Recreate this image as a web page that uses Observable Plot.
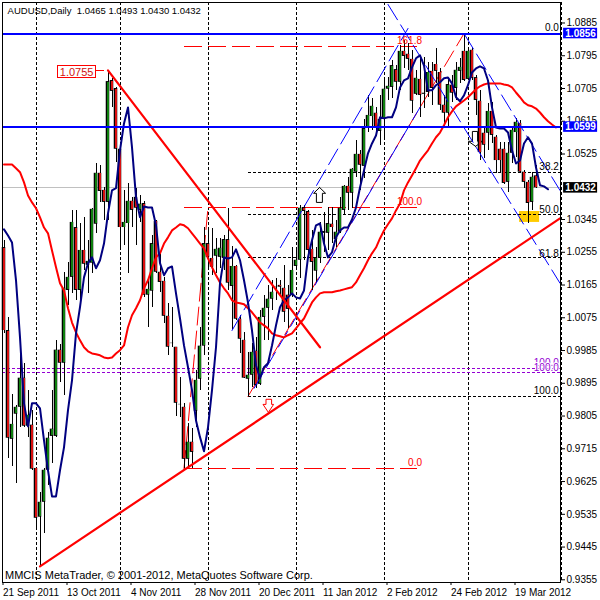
<!DOCTYPE html>
<html><head><meta charset="utf-8">
<script src="https://cdn.jsdelivr.net/npm/d3@7"></script>
<script src="https://cdn.jsdelivr.net/npm/@observablehq/plot@0.6"></script>
<style>html,body{margin:0;padding:0;background:#fff}svg{display:block}</style>
</head><body><div id="c"></div>
<script>
const open=[1.0268,1.0040,.9741,.9810,.9829,.9909,.9777,.9780,.9661,.9527,
.9568,.9656,.9749,.9749,.9986,.9950,1.0150,1.0186,1.0323,1.0150,
1.0260,1.0219,1.0225,1.0332,1.0472,1.0425,1.0392,1.0727,1.0705,1.0538,
1.0323,1.0334,1.0395,1.0406,1.0370,1.0389,1.0137,1.0148,1.0340,1.0200,
1.0175,1.0079,1.0005,.9994,.9837,.9829,.9686,.9733,.9818,.9906,
.9997,1.0279,1.0238,1.0244,1.0241,1.0238,1.0290,1.0161,1.0216,1.0071,
1.0013,.9906,.9917,.9983,.9892,1.0076,1.0101,1.0126,1.0161,1.0164,
1.0156,1.0137,1.0137,1.0216,1.0233,1.0378,1.0367,1.0263,1.0203,1.0238,
1.0312,1.0307,1.0332,1.0290,1.0310,1.0370,1.0436,1.0417,1.0475,1.0524,
1.0491,1.0598,1.0628,1.0637,1.0587,1.0620,1.0703,1.0708,1.0757,1.0722,
1.0807,1.0799,1.0785,1.0689,1.0730,1.0689,1.0694,1.0752,1.0771,1.0749,
1.0659,1.0637,1.0714,1.0705,1.0752,1.0807,1.0730,1.0810,1.0735,1.0670,
1.0582,1.0582,1.0642,1.0571,1.0538,1.0538,1.0447,1.0527,1.0584,1.0609,
1.0475,1.0447,1.0392,1.0465];
const close=[1.0040,.9744,.9782,.9829,.9909,.9777,.9807,.9659,.9524,.9568,
.9656,.9744,.9769,.9986,.9950,1.0156,1.0186,1.0337,1.0150,1.0260,
1.0222,1.0230,1.0373,1.0472,1.0422,1.0392,1.0724,1.0697,1.0538,1.0323,
1.0337,1.0395,1.0370,1.0376,1.0387,1.0137,1.0153,1.0279,1.0200,1.0172,
1.0079,.9994,1.0004,.9840,.9836,.9686,.9733,.9705,.9903,.9997,
1.0279,1.0241,1.0214,1.0263,1.0266,1.0290,1.0170,1.0216,1.0071,1.0016,
.9909,.9917,.9980,.9889,1.0076,1.0101,1.0126,1.0145,1.0160,1.0159,
1.0090,1.0098,1.0205,1.0233,1.0376,1.0367,1.0260,1.0227,1.0238,1.0310,
1.0307,1.0334,1.0323,1.0310,1.0376,1.0436,1.0417,1.0483,1.0524,1.0494,
1.0595,1.0631,1.0656,1.0598,1.0620,1.0703,1.0711,1.0768,1.0722,1.0807,
1.0793,1.0785,1.0670,1.0733,1.0686,1.0692,1.0749,1.0705,1.0752,1.0659,
1.0637,1.0716,1.0692,1.0755,1.0763,1.0727,1.0807,1.0733,1.0672,1.0529,
1.0549,1.0642,1.0576,1.0507,1.0507,1.0444,1.0527,1.0590,1.0612,1.0475,
1.0447,1.0389,1.0461,1.0432];
const high=[1.0288,1.0076,.9865,.9834,.9977,.9950,.9876,.9821,.9664,.9595,
.9661,.9760,.9876,1.0013,1.0002,1.0200,1.0227,1.0370,1.0370,1.0334,
1.0351,1.0288,1.0376,1.0499,1.0494,1.0433,1.0755,1.0733,1.0708,1.0549,
1.0425,1.0444,1.0406,1.0431,1.0411,1.0395,1.0178,1.0301,1.0343,1.0252,
1.0186,1.0115,1.0104,.9994,.9911,.9840,.9785,.9771,.9931,1.0049,
1.0323,1.0315,1.0321,1.0293,1.0293,1.0301,1.0376,1.0271,1.0219,1.0082,
1.0035,.9980,1.0005,1.0021,1.0095,1.0137,1.0164,1.0178,1.0183,1.0178,
1.0219,1.0164,1.0268,1.0268,1.0384,1.0384,1.0370,1.0315,1.0268,1.0337,
1.0365,1.0378,1.0378,1.0343,1.0406,1.0439,1.0461,1.0486,1.0562,1.0535,
1.0620,1.0686,1.0678,1.0653,1.0686,1.0727,1.0735,1.0782,1.0768,1.0823,
1.0837,1.0829,1.0810,1.0755,1.0790,1.0790,1.0777,1.0777,1.0815,1.0760,
1.0686,1.0735,1.0741,1.0777,1.0788,1.0856,1.0818,1.0818,1.0741,1.0700,
1.0595,1.0664,1.0667,1.0576,1.0557,1.0557,1.0557,1.0595,1.0623,1.0617,
1.0480,1.0453,1.0475,1.0493];
const low=[1.0032,.9689,.9667,.9620,.9774,.9774,.9747,.9656,.9497,.9392,
.9483,.9615,.9675,.9747,.9898,.9862,1.0109,1.0142,1.0123,1.0123,
1.0205,1.0142,1.0197,1.0307,1.0392,1.0343,1.0343,1.0653,1.0502,1.0268,
1.0274,1.0197,1.0323,1.0274,1.0337,1.0131,1.0049,1.0104,1.0197,1.0145,
1.0060,.9972,.9994,.9804,.9802,.9661,.9661,.9661,.9774,.9876,
.9972,1.0205,1.0192,1.0197,1.0211,1.0205,1.0150,1.0043,1.0068,.9977,
.9908,.9859,.9884,.9881,.9889,1.0013,1.0013,1.0095,1.0123,1.0134,
1.0062,1.0046,1.0131,1.0205,1.0183,1.0233,1.0238,1.0150,1.0170,1.0225,
1.0255,1.0260,1.0279,1.0268,1.0307,1.0356,1.0370,1.0376,1.0461,1.0425,
1.0458,1.0584,1.0590,1.0582,1.0549,1.0568,1.0672,1.0678,1.0700,1.0700,
1.0760,1.0755,1.0637,1.0686,1.0626,1.0650,1.0681,1.0659,1.0719,1.0645,
1.0598,1.0598,1.0667,1.0672,1.0719,1.0724,1.0727,1.0727,1.0631,1.0507,
1.0513,1.0535,1.0554,1.0472,1.0475,1.0442,1.0420,1.0499,1.0516,1.0472,
1.0431,1.0334,1.0370,1.0430];
const navyMA=[1.0318,1.0301,1.0282,1.0178,1.0021,.9840,.9777,.9840,.9840,.9826,
.9738,.9656,.9584,.9584,.9656,.9719,.9821,.9903,1.0032,1.0104,
1.0186,1.0225,1.0241,1.0211,1.0233,1.0279,1.0362,1.0425,1.0431,1.0535,
1.0609,1.0653,1.0543,1.0406,1.0351,1.0381,1.0378,1.0378,1.0329,1.0225,
1.0192,1.0211,1.0216,1.0142,1.0073,.9999,.9939,.9876,.9793,.9747,
.9708,.9774,.9876,.9994,1.0170,1.0241,1.0238,1.0241,1.0263,1.0233,
1.0178,1.0117,1.0040,.9944,.9909,.9939,.9950,.9999,1.0054,1.0104,
1.0123,1.0131,1.0142,1.0131,1.0128,1.0150,1.0241,1.0288,1.0329,1.0334,
1.0279,1.0241,1.0255,1.0296,1.0315,1.0323,1.0323,1.0345,1.0378,1.0433,
1.0480,1.0527,1.0554,1.0576,1.0626,1.0623,1.0626,1.0626,1.0653,1.0708,
1.0727,1.0733,1.0763,1.0788,1.0796,1.0768,1.0700,1.0700,1.0714,1.0722,
1.0733,1.0735,1.0719,1.0681,1.0670,1.0686,1.0714,1.0749,1.0760,1.0766,
1.0760,1.0727,1.0653,1.0598,1.0595,1.0595,1.0584,1.0535,1.0499,1.0507,
1.0554,1.0571,1.0554,1.0488,1.0439,1.0436,1.0428];
const redMA=[1.0496,1.0496,1.0496,1.0486,1.0475,1.0447,1.0411,1.0392,1.0376,1.0351,
1.0323,1.0307,1.0260,1.0214,1.0170,1.0150,1.0101,1.0062,1.0035,1.0013,
.9994,.9983,.9977,.9975,.9972,.9966,.9964,.9966,.9977,.9986,
.9999,1.0049,1.0082,1.0101,1.0123,1.0156,1.0178,1.0211,1.0241,1.0252,
1.0279,1.0296,1.0315,1.0323,1.0332,1.0329,1.0321,1.0307,1.0293,1.0279,
1.0266,1.0238,1.0214,1.0192,1.0172,1.0156,1.0142,1.0123,1.0117,1.0115,
1.0112,1.0101,1.0090,1.0076,1.0062,1.0054,1.0046,1.0032,1.0027,1.0024,
1.0021,1.0027,1.0032,1.0046,1.0060,1.0073,1.0095,1.0117,1.0131,1.0142,
1.0145,1.0145,1.0145,1.0148,1.0150,1.0153,1.0156,1.0159,1.0172,1.0192,
1.0211,1.0233,1.0252,1.0268,1.0293,1.0315,1.0332,1.0348,1.0370,1.0389,
1.0425,1.0447,1.0466,1.0486,1.0507,1.0521,1.0535,1.0554,1.0571,1.0584,
1.0604,1.0626,1.0642,1.0656,1.0664,1.0672,1.0681,1.0692,1.0703,1.0711,
1.0716,1.0719,1.0719,1.0719,1.0719,1.0716,1.0714,1.0708,1.0694,1.0681,
1.0667,1.0659,1.0656,1.0650,1.0639,1.0626,1.0615,1.0606,1.0598];

const monthBars=[8,29,51,73,95,116];
const fibBlack=[1.0475,1.03575,1.0240,.9859];
const bluePrices=[1.0856,1.0599];
const lastPrice=1.0432;
const violetPrices=[.9936,.9925];
const redFib=[1.0820,1.0378,.9661];
const yTicks=[1.0885,1.0795,1.0705,1.0615,1.0525,1.0345,1.0255,1.0165,1.0075,.9985,.9895,.9805,.9715,.9625,.9535,.9445,.9355];
const xTickBars=[0,16,32,48,64,80,96,112,128];
const xTickLabels=["21 Sep 2011","13 Oct 2011","4 Nov 2011","28 Nov 2011","20 Dec 2011","11 Jan 2012","2 Feb 2012","24 Feb 2012","19 Mar 2012"];
const xMin=-0.375,xMax=139.125;
const thickTrends=[[[26,1.0755],[79,.9994]],[[9,.9392],[139,1.0348]]];
const channels=[[[96,1.0936],[139,1.0170]],[[115,1.0856],[139,1.0425]],[[62.5,.9881],[104,1.0653]],[[57,1.0040],[101,1.0870]]];
const redDiagonals=[[[61,.9859],[115,1.0856]],[[45,.9661],[51,1.0378]]];
const upArrow=[[78.9,1.0433],[80.4,1.0417],[79.6,1.0417],[79.6,1.0392],[78.1,1.0392],[78.1,1.0417],[77.4,1.0417],[78.9,1.0433]];
const downArrowRed=[[66.1,.9815],[67.4,.9837],[66.9,.9837],[66.9,.9851],[65.5,.9851],[65.5,.9837],[64.75,.9837],[66.1,.9815]];
const downArrowBlack=[[117.9,1.0546],[119.6,1.0560],[118.4,1.0560],[118.4,1.0587],[117.1,1.0587],[117.1,1.0560],[116.1,1.0560],[117.9,1.0546]];

const bars=open.map((o,i)=>({i,o,c:close[i],h:high[i],l:low[i]}));
const F="Liberation Sans, Arial, sans-serif";
const seg=s=>s.map(([x,y])=>({x,y}));
const lineOf=(pts,o)=>Plot.line(seg(pts),{x:"x",y:"y",...o});
const num=a=>a.map((v,i)=>({i,v}));
const txt=(t,x,y,o={})=>Plot.text([t],{x:()=>x,y:()=>y,text:d=>d,fontSize:10,fontFamily:F,lineAnchor:"middle",...o});

const chart=Plot.plot({
 width:600,height:600,marginLeft:2,marginRight:40,marginTop:2,marginBottom:18,
 style:{background:"#fff",fontFamily:F,overflow:"visible"},
 x:{type:"linear",domain:[xMin,xMax]},
 y:{type:"linear",domain:[.93476,1.09413]},
 marks:[
  Plot.rect([0],{x1:()=>128.9,x2:()=>133.9,y1:()=>1.0367,y2:()=>1.0337,fill:"#ffcc00"}),
  Plot.ruleY([lastPrice],{stroke:"#c0c0c0",strokeWidth:1,shapeRendering:"crispEdges"}),
  Plot.ruleX(monthBars,{stroke:"#000",strokeWidth:1,strokeDasharray:"3,2",shapeRendering:"crispEdges"}),
  Plot.ruleY(fibBlack,{x1:61,x2:xMax,stroke:"#000",strokeWidth:1,strokeDasharray:"3,2",shapeRendering:"crispEdges"}),
  Plot.ruleY([1.0378],{x1:81,x2:84.5,stroke:"#000",strokeWidth:1,shapeRendering:"crispEdges"}),
  Plot.ruleY(violetPrices,{stroke:"#9400d3",strokeWidth:1,strokeDasharray:"3,2",shapeRendering:"crispEdges"}),
  Plot.ruleY(redFib,{x1:45,x2:103.4,stroke:"#ff0000",strokeWidth:1,strokeDasharray:"18,6",shapeRendering:"crispEdges"}),
  ...redDiagonals.map(p=>lineOf(p,{stroke:"#ff0000",strokeWidth:1,strokeDasharray:"18,6"})),
  lineOf(downArrowBlack,{stroke:"#000",strokeWidth:1,fill:"#fff"}),
  Plot.ruleX(bars,{x:"i",y1:"l",y2:"h",stroke:"#000",strokeWidth:1,shapeRendering:"crispEdges"}),
  Plot.rect(bars,{x1:d=>d.i-0.44,x2:d=>d.i+0.44,y1:"o",y2:"c",fill:"#000"}),
  Plot.rect(bars,{x1:d=>d.i-0.25,x2:d=>d.i+0.25,y1:d=>Math.max(d.o,d.c)-.00014,y2:d=>Math.min(d.o,d.c)+.00014,fill:d=>d.c>=d.o?"#0f7f0f":"#d81010",shapeRendering:"crispEdges"}),
  ...channels.map(p=>lineOf(p,{stroke:"#0000ff",strokeWidth:1,strokeDasharray:"18,6"})),
  Plot.line(num(redMA),{x:"i",y:"v",stroke:"#ff0000",strokeWidth:2,curve:"linear"}),
  Plot.line(num(navyMA),{x:"i",y:"v",stroke:"#000080",strokeWidth:2,curve:"linear"}),
  ...thickTrends.map(p=>lineOf(p,{stroke:"#ff0000",strokeWidth:2.2})),
  Plot.ruleY(bluePrices,{stroke:"#0000ff",strokeWidth:2,shapeRendering:"crispEdges"}),
  lineOf(upArrow,{stroke:"#000",strokeWidth:1,fill:"#fff"}),
  lineOf(downArrowRed,{stroke:"#ff0000",strokeWidth:1,fill:"#fff"}),
  Plot.frame({stroke:"#000",strokeWidth:1,shapeRendering:"crispEdges"}),
  Plot.ruleX([xMax],{dx:1,stroke:"#000",strokeWidth:1,strokeDasharray:"3,2",shapeRendering:"crispEdges"}),
  Plot.axisY(yTicks,{anchor:"right",tickFormat:d3.format(".4f"),tickSize:4,tickPadding:2,fontSize:10,fontFamily:F,stroke:"#000",color:"#000",label:null}),
  Plot.axisX(xTickBars,{anchor:"bottom",tickFormat:d=>xTickLabels[xTickBars.indexOf(d)],tickSize:3,tickPadding:3,textAnchor:"start",dx:-1,fontSize:10,fontFamily:F,stroke:"#000",color:"#000",label:null}),
  // 1.0755 callout
  Plot.rect([0],{x1:()=>13.4,x2:()=>22.9,y1:()=>1.0733,y2:()=>1.0766,fill:"#fff",stroke:"#ff0000",strokeWidth:1,shapeRendering:"crispEdges"}),
  Plot.ruleY([1.0755],{x1:22.9,x2:25.2,stroke:"#ff0000",strokeWidth:1,shapeRendering:"crispEdges"}),
  txt("1.0755",18.15,1.0750,{fill:"#d01010",fontSize:11}),
  // Price boxes on the axis
  Plot.rect(bluePrices,{x1:()=>139.9,x2:()=>148.4,y1:d=>d-.00145,y2:d=>d+.00145,fill:"#0000ff"}),
  Plot.text(bluePrices,{x:()=>144.15,y:d=>d,text:d=>d.toFixed(4),fill:"#fff",fontSize:10,fontWeight:"bold",fontFamily:F,lineAnchor:"middle"}),
  Plot.rect([lastPrice],{x1:()=>139.9,x2:()=>148.4,y1:d=>d-.00145,y2:d=>d+.00145,fill:"#000"}),
  Plot.text([lastPrice],{x:()=>144.15,y:d=>d,text:d=>d.toFixed(4),fill:"#fff",fontSize:10,fontWeight:"bold",fontFamily:F,lineAnchor:"middle"}),
  // Fibonacci labels
  ...[["0.0",1.0871],["38.2",1.0490],["50.0",1.0372],["61.8",1.0252],["100.0",.9873]].map(([t,y])=>txt(t,138.7,y,{textAnchor:"end",fill:"#000"})),
  txt("100.0",138.7,.9950,{textAnchor:"end",fill:"#9400d3"}),
  txt("100.0",138.7,.9938,{textAnchor:"end",fill:"#9400d3",stroke:"#fff",strokeWidth:2}),
  txt("161.8",104.5,1.0836,{textAnchor:"end",fill:"#ff0000"}),
  txt("100.0",104.5,1.0394,{textAnchor:"end",fill:"#ff0000"}),
  txt("0.0",104.5,.9676,{textAnchor:"end",fill:"#ff0000"}),
  // Header and footer of the terminal
  txt("AUDUSD,Daily  1.0465 1.0493 1.0430 1.0432",0.9,1.0918,{textAnchor:"start",fill:"#000",fontSize:9.5,style:{whiteSpace:"pre"}}),
  txt("MMCIS MetaTrader, © 2001-2012, MetaQuotes Software Corp.",0.25,.9366,{textAnchor:"start",fill:"#000",fontSize:11})
 ]
});
document.getElementById("c").appendChild(chart);
</script></body></html>
